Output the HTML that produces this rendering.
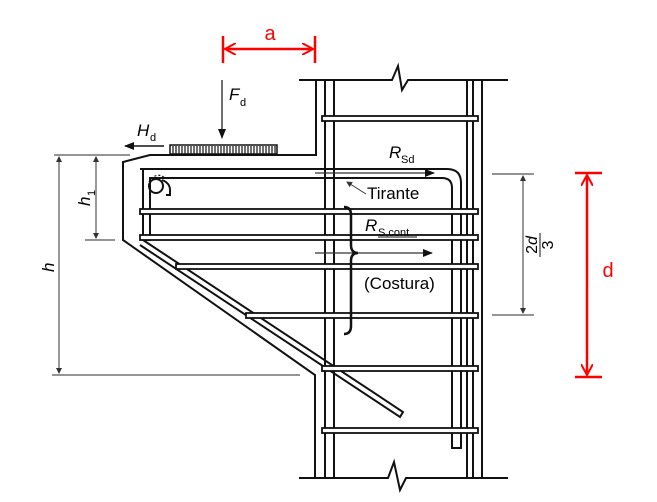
<!DOCTYPE html>
<html><head><meta charset="utf-8"><style>
html,body{margin:0;padding:0;background:#fff;}
svg{display:block;font-family:"Liberation Sans",Arial,sans-serif;}
</style></head><body>
<svg width="657" height="502" viewBox="0 0 657 502" xmlns="http://www.w3.org/2000/svg">
<defs>
<marker id="ak" markerWidth="10" markerHeight="8" refX="9" refY="4" orient="auto" markerUnits="userSpaceOnUse"><path d="M0,0 L10,4 L0,8 z" fill="#111"/></marker>
<marker id="ag" markerWidth="6" markerHeight="6" refX="5" refY="3" orient="auto-start-reverse" markerUnits="userSpaceOnUse"><path d="M0,0 L6,3 L0,6 z" fill="#333"/></marker>
<marker id="ar" markerWidth="12" markerHeight="12" refX="11" refY="6" orient="auto-start-reverse" markerUnits="userSpaceOnUse"><path d="M0,0 L11,6 L0,12" fill="none" stroke="#f00" stroke-width="2"/></marker>
</defs>
<g stroke="#111" fill="none" stroke-width="2">
<path d="M299,80 H392 L398,66 L402,90 L408,80 H508"/>
<path d="M299,478 H388 L394,462 L400,490 L406,478 H508"/>
<path d="M316,80 V155 H150 L123,162 V240 L315,375 V478"/>
<line x1="482" y1="80" x2="482" y2="478"/>
<line x1="325" y1="80" x2="325" y2="478"/>
<line x1="334" y1="80" x2="334" y2="478"/>
<line x1="467" y1="80" x2="467" y2="478"/>
<line x1="473" y1="80" x2="473" y2="478"/>
<path d="M140,169 H447 Q461,169 461,183 V448 H452 V188 Q452,178 442,178 H150 V240 H143 V169"/>
<circle cx="156" cy="186" r="7"/>
<path d="M149,182 Q156,171 165,178" stroke-dasharray="2,2" stroke-width="1.2"/>
<path d="M162,180 Q170,183 170,190 V195 H166" stroke-width="2"/>
<path d="M143,240 L403,412 L400,417 L140,245"/>
</g>
<g fill="#fff" stroke="#111" stroke-width="1.8">
<rect x="322" y="116" width="156" height="5"/>
<rect x="140" y="209" width="338" height="5"/>
<rect x="140" y="235" width="338" height="5"/>
<rect x="176" y="264" width="302" height="5"/>
<rect x="246" y="313" width="232" height="5"/>
<rect x="322" y="366" width="156" height="5"/>
<rect x="322" y="428" width="156" height="5"/>
</g>
<rect x="170" y="145" width="107" height="9" fill="#fff" stroke="#111" stroke-width="1.5"/>
<path d="M173,146v8M176,146v8M179,146v8M182,146v8M185,146v8M188,146v8M191,146v8M194,146v8M197,146v8M200,146v8M203,146v8M206,146v8M209,146v8M212,146v8M215,146v8M218,146v8M221,146v8M224,146v8M227,146v8M230,146v8M233,146v8M236,146v8M239,146v8M242,146v8M245,146v8M248,146v8M251,146v8M254,146v8M257,146v8M260,146v8M263,146v8M266,146v8M269,146v8M272,146v8M275,146v8" stroke="#111" stroke-width="1.2"/>
<line x1="222" y1="80" x2="222" y2="138" stroke="#111" stroke-width="1.2" marker-end="url(#ak)"/>
<text x="229" y="100" font-size="17" font-style="italic">F</text><text x="240" y="106" font-size="11">d</text>
<line x1="164" y1="146" x2="125" y2="146" stroke="#111" stroke-width="1.5" marker-end="url(#ak)"/>
<text x="137" y="136" font-size="17" font-style="italic">H</text><text x="150" y="141" font-size="11">d</text>
<line x1="315" y1="173" x2="434" y2="173" stroke="#333" stroke-width="1.2" marker-end="url(#ak)"/>
<text x="389" y="158" font-size="17" font-style="italic">R</text><text x="401" y="163" font-size="11">Sd</text>
<line x1="366" y1="194" x2="347" y2="182" stroke="#333" stroke-width="1" marker-end="url(#ag)"/>
<text x="367" y="199" font-size="17">Tirante</text>
<text x="365" y="231" font-size="17" font-style="italic">R</text><text x="378" y="236" font-size="11">S,cont</text>
<line x1="378" y1="237" x2="417" y2="237" stroke="#111" stroke-width="1"/>
<line x1="315" y1="253" x2="432" y2="253" stroke="#333" stroke-width="1.2" marker-end="url(#ak)"/>
<text x="364" y="289" font-size="17">(Costura)</text>
<path d="M344,207 Q351,207 351,215 V245 Q351,253 358,253 Q351,253 351,261 V326 Q351,334 344,334" fill="none" stroke="#111" stroke-width="2.5"/>
<g stroke="#555" stroke-width="1.2" fill="none">
<line x1="54" y1="155" x2="130" y2="155"/>
<line x1="52" y1="375" x2="300" y2="375"/>
<line x1="85" y1="240" x2="115" y2="240"/>
<line x1="59" y1="157" x2="59" y2="373" marker-start="url(#ag)" marker-end="url(#ag)"/>
<line x1="96" y1="157" x2="96" y2="238" marker-start="url(#ag)" marker-end="url(#ag)"/>
<line x1="492" y1="174" x2="534" y2="174"/>
<line x1="492" y1="315" x2="534" y2="315"/>
<line x1="523" y1="176" x2="523" y2="313" marker-start="url(#ag)" marker-end="url(#ag)"/>
</g>
<text transform="translate(54,272) rotate(-90)" font-size="17" font-style="italic">h</text>
<text transform="translate(90,206) rotate(-90)" font-size="17" font-style="italic">h</text>
<text transform="translate(95,196) rotate(-90)" font-size="11">1</text>
<g transform="translate(540,245) rotate(-90)">
<text x="0" y="-3" font-size="16" text-anchor="middle">2<tspan font-style="italic">d</tspan></text>
<line x1="-12" y1="0" x2="12" y2="0" stroke="#111" stroke-width="1"/>
<text x="0" y="13" font-size="16" text-anchor="middle">3</text>
</g>
<g stroke="#f00" stroke-width="2.5" fill="none">
<line x1="223" y1="36" x2="223" y2="63"/>
<line x1="315" y1="36" x2="315" y2="63"/>
<line x1="225" y1="49" x2="313" y2="49" marker-start="url(#ar)" marker-end="url(#ar)"/>
<line x1="575" y1="173" x2="602" y2="173"/>
<line x1="575" y1="377" x2="602" y2="377"/>
<line x1="587" y1="175" x2="587" y2="375" marker-start="url(#ar)" marker-end="url(#ar)"/>
</g>
<text x="270" y="40" font-size="20" fill="#f00" text-anchor="middle">a</text>
<text x="608" y="277" font-size="20" fill="#f00" text-anchor="middle">d</text>
</svg>
</body></html>
